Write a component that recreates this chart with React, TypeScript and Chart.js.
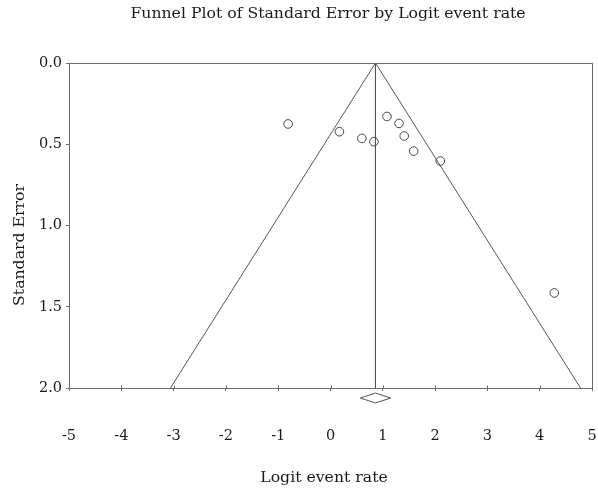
import React, { useEffect, useRef } from "react";
import { Chart, registerables } from "chart.js";

Chart.register(...registerables);

const chartTitle = "Funnel Plot of Standard Error by Logit event rate";
const xAxisTitle = "Logit event rate";
const yAxisTitle = "Standard Error";

// Study points
const logitRates = [-0.81, 0.17, 0.6, 0.83, 1.08, 1.31, 1.41, 1.59, 2.1, 4.28];
const stdErrors = [0.375, 0.423, 0.464, 0.484, 0.329, 0.372, 0.449, 0.542, 0.603, 1.415];

// Funnel (pseudo 95% limits) and pooled estimate
const funnelX = [-3.06, 0.86, 4.78];
const funnelY = [2.0, 0.0, 2.0];
const pooledX = [0.86, 0.86];
const pooledY = [0.0, 2.0];

// Summary diamond (below the axis)
const diamondX = [0.57, 0.86, 1.15, 0.86, 0.57];
const diamondY = [2.062, 2.031, 2.062, 2.092, 2.062];

const xTicks = [-5, -4, -3, -2, -1, 0, 1, 2, 3, 4, 5];
const yTicks = [0.0, 0.5, 1.0, 1.5, 2.0];

const FONT = "'DejaVu Serif', 'Liberation Serif', serif";
const INK = "#1a1a1a";
const LINE = "#555";
const BORDER = "#6a6a6a";

const zip = (xs: number[], ys: number[]) => xs.map((x, i) => ({ x, y: ys[i] }));

export default function App() {
  const ref = useRef<HTMLCanvasElement | null>(null);

  useEffect(() => {
    if (!ref.current) return;

    const framePlugin = {
      id: "frameAndText",
      afterDraw(chart: any) {
        const { ctx, chartArea } = chart;
        ctx.save();
        ctx.strokeStyle = BORDER;
        ctx.lineWidth = 1;
        ctx.strokeRect(
          Math.round(chartArea.left) + 0.5,
          Math.round(chartArea.top) + 0.5,
          Math.round(chartArea.right - chartArea.left),
          Math.round(chartArea.bottom - chartArea.top)
        );
        // small inner part of the x tick marks (ticks cross the axis)
        const xs = chart.scales.x;
        const yb = Math.round(chartArea.bottom) + 0.5;
        ctx.beginPath();
        xTicks.forEach((v) => {
          const px = Math.round(xs.getPixelForValue(v)) + 0.5;
          ctx.moveTo(px, yb);
          ctx.lineTo(px, yb - 3);
        });
        ctx.stroke();

        ctx.fillStyle = INK;
        ctx.font = `15.7px ${FONT}`;
        ctx.textAlign = "center";
        ctx.textBaseline = "middle";
        ctx.fillText(chartTitle, 328, 14);
        ctx.fillText(xAxisTitle, 324, 478);
        ctx.translate(20, 245);
        ctx.rotate(-Math.PI / 2);
        ctx.fillText(yAxisTitle, 0, 0);
        ctx.restore();
      },
    };

    const chart = new Chart(ref.current, {
      type: "scatter",
      data: {
        datasets: [
          {
            label: "Funnel",
            data: zip(funnelX, funnelY),
            showLine: true,
            borderColor: LINE,
            borderWidth: 1,
            pointRadius: 0,
            fill: false,
          },
          {
            label: "Pooled",
            data: zip(pooledX, pooledY),
            showLine: true,
            borderColor: LINE,
            borderWidth: 1,
            pointRadius: 0,
            fill: false,
          },
          {
            label: "Studies",
            data: zip(logitRates, stdErrors),
            showLine: false,
            pointStyle: "circle",
            pointRadius: 4.3,
            pointBorderWidth: 1,
            pointBorderColor: "#444",
            pointBackgroundColor: "rgba(0,0,0,0)",
          },
          {
            label: "Diamond",
            data: zip(diamondX, diamondY),
            showLine: true,
            borderColor: LINE,
            borderWidth: 1,
            pointRadius: 0,
            fill: false,
            clip: false as any,
          },
        ],
      },
      options: {
        animation: false,
        responsive: false,
        maintainAspectRatio: false,
        devicePixelRatio: 1,
        layout: { padding: { top: 63, right: 6, left: 0, bottom: 0 } },
        plugins: {
          legend: { display: false },
          title: { display: false },
          tooltip: { enabled: false },
        },
        scales: {
          x: {
            type: "linear",
            min: -5,
            max: 5,
            afterBuildTicks: (scale: any) => {
              scale.ticks = xTicks.map((v) => ({ value: v }));
            },
            afterFit: (scale: any) => {
              scale.height = 100;
              scale.paddingLeft = 0;
              scale.paddingRight = 0;
            },
            ticks: {
              color: INK,
              font: { family: FONT, size: 14.5 },
              padding: 37,
              maxRotation: 0,
              autoSkip: false,
              callback: (v: any) => String(v),
            },
            grid: {
              drawOnChartArea: false,
              drawTicks: true,
              tickLength: 3,
              color: BORDER,
            },
            border: { display: true, color: BORDER, width: 1 },
          },
          y: {
            type: "linear",
            reverse: true,
            min: 0,
            max: 2,
            afterBuildTicks: (scale: any) => {
              scale.ticks = yTicks.map((v) => ({ value: v }));
            },
            afterFit: (scale: any) => {
              scale.width = 69;
              scale.paddingTop = 0;
              scale.paddingBottom = 0;
            },
            ticks: {
              color: INK,
              font: { family: FONT, size: 14.5 },
              padding: 4,
              autoSkip: false,
              callback: (v: any) => Number(v).toFixed(1),
            },
            grid: {
              drawOnChartArea: false,
              drawTicks: true,
              tickLength: 3,
              color: BORDER,
            },
            border: { display: true, color: BORDER, width: 1 },
          },
        },
      },
      plugins: [framePlugin],
    });

    return () => chart.destroy();
  }, []);

  return (
    <div style={{ position: "fixed", left: 0, top: 0, width: 598, height: 488, background: "#fff" }}>
      <canvas ref={ref} width={598} height={488} style={{ width: 598, height: 488, display: "block" }} />
    </div>
  );
}
